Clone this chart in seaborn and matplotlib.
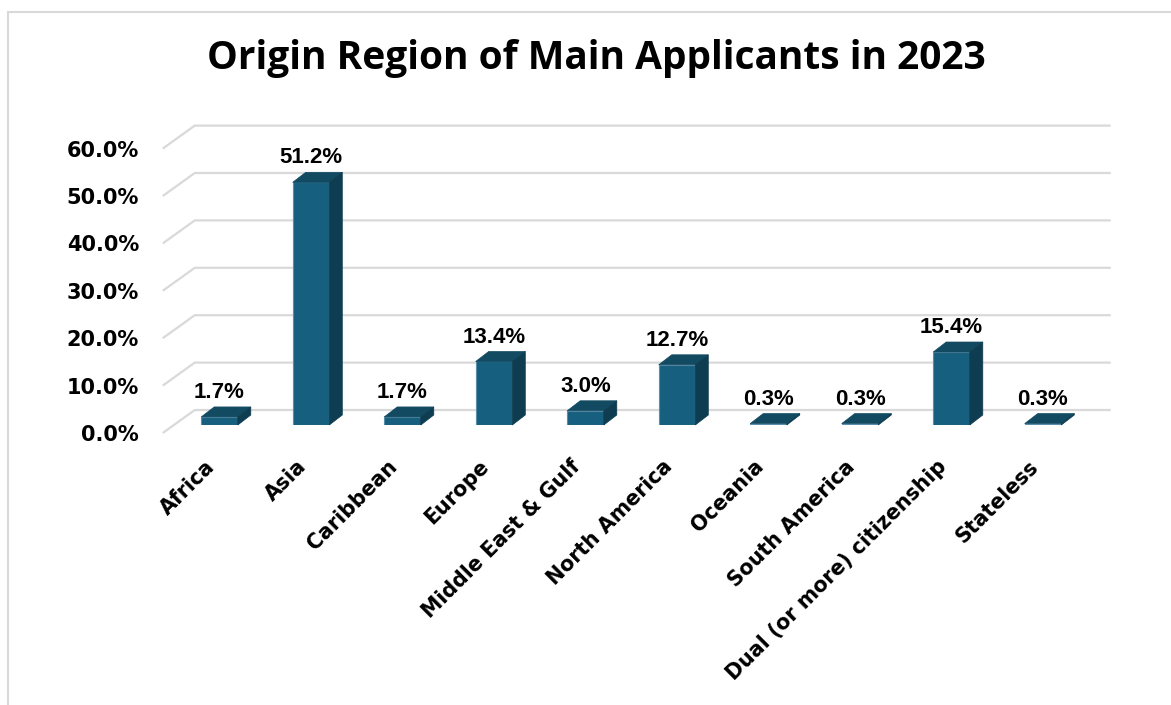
import matplotlib
matplotlib.use("Agg")
import numpy as np
import pandas as pd
import matplotlib.pyplot as plt
import seaborn as sns
from matplotlib.transforms import ScaledTranslation, IdentityTransform
from matplotlib.patches import Polygon, Rectangle
from matplotlib.lines import Line2D

# Share of main applicants by origin region, 2023 (percent)
regions = ["Africa", "Asia", "Caribbean", "Europe", "Middle East & Gulf",
           "North America", "Oceania", "South America",
           "Dual (or more) citizenship", "Stateless"]
shares = [1.7, 51.2, 1.7, 13.4, 3.0, 12.7, 0.3, 0.3, 15.4, 0.3]
y_ticks = [0, 10, 20, 30, 40, 50, 60]
title = "Origin Region of Main Applicants in 2023"

FRONT = "#175F7E"
TOP = "#124A62"
SIDE = "#0E3C50"
EDGE = "#5B8EAB"
GRID = "#D9D9D9"

sns.set_theme(style="white")
plt.rcParams["font.family"] = ["DejaVu Sans"]

W, H = 1171, 705
fig = plt.figure(figsize=(W / 100, H / 100), dpi=100)
fig.patch.set_facecolor("white")

# the axes is the plane of the bars' front faces
ax = fig.add_axes([173.75 / W, 280 / H, 915 / W, 284.4 / H])
ax.set_facecolor("none")

df = pd.DataFrame({"region": regions, "share": shares})
sns.barplot(data=df, x="region", y="share", color=FRONT, saturation=1,
            width=0.40, edgecolor=EDGE, linewidth=0.8, ax=ax, zorder=3)
ax.set_xlim(-0.5, len(regions) - 0.5)
ax.set_ylim(0, 60)
sns.despine(ax=ax, left=True, bottom=True)
ax.set_xlabel("")
ax.set_ylabel("")

# pseudo-3D depth offsets (display pixels, relative to the bar plane)
BAR_BACK = np.array([13.0, 10.0])
FLOOR_FRONT = np.array([-11.0, -8.0])
WALL = np.array([21.0, 15.0])


def disp(x, y, off=(0.0, 0.0)):
    return ax.transData.transform((x, y)) + np.asarray(off)


# gridlines running along the floor edge and the back wall
x0, x1 = ax.get_xlim()
for v in y_ticks:
    pts = np.array([disp(x0, v, FLOOR_FRONT), disp(x0, v, WALL),
                    disp(x1, v, WALL + np.array([1.0, 0.0]))])
    ax.add_line(Line2D(pts[:, 0], pts[:, 1], transform=IdentityTransform(),
                       color=GRID, lw=1.6, clip_on=False, zorder=1,
                       solid_capstyle="butt"))

# top and side faces of each column
for patch in list(ax.patches):
    bx, bw, bh = patch.get_x(), patch.get_width(), patch.get_height()
    top = [disp(bx, bh), disp(bx + bw, bh),
           disp(bx + bw, bh, BAR_BACK), disp(bx, bh, BAR_BACK)]
    side = [disp(bx + bw, 0), disp(bx + bw, bh),
            disp(bx + bw, bh, BAR_BACK), disp(bx + bw, 0, BAR_BACK)]
    ax.add_patch(Polygon(top, closed=True, transform=IdentityTransform(),
                         facecolor=TOP, edgecolor=TOP, lw=0.5,
                         clip_on=False, zorder=3.5))
    ax.add_patch(Polygon(side, closed=True, transform=IdentityTransform(),
                         facecolor=SIDE, edgecolor=SIDE, lw=0.5,
                         clip_on=False, zorder=3.5))

# value labels above the columns
ax.bar_label(ax.containers[0], labels=[f"{v:.1f}%" for v in shares],
             padding=10, fontsize=16, fontweight="bold",
             fontfamily="Liberation Sans", color="black", zorder=5)

# y axis labels sit on the floor's front edge
ax.set_yticks(y_ticks)
ax.set_yticklabels([f"{v:.1f}%" for v in y_ticks], fontsize=15,
                   fontweight="bold", color="black")
ax.tick_params(axis="y", length=0, pad=25)
yshift = ScaledTranslation(0, -8 / 100, fig.dpi_scale_trans)
for lab in ax.get_yticklabels():
    lab.set_transform(lab.get_transform() + yshift)

ax.set_xticks(range(len(regions)))
ax.set_xticklabels(regions, rotation=45, ha="right", va="top",
                   rotation_mode="anchor", fontsize=14.8,
                   fontweight="bold", color="black")
ax.tick_params(axis="x", length=0, pad=24)
xshift = ScaledTranslation(-15 / 100, 2 / 100, fig.dpi_scale_trans)
for lab in ax.get_xticklabels():
    lab.set_transform(lab.get_transform() + xshift)

fig.text(596 / W, 1 - 59 / H, title, ha="center", va="center",
         fontsize=28, fontweight="bold", fontfamily="Open Sans",
         color="black")

# chart frame
fig.add_artist(Rectangle((8 / W, -0.1), 2.0, 1 - 12 / H + 0.1,
                         transform=fig.transFigure, fill=False,
                         edgecolor=GRID, lw=1.5))

fig.savefig("out.png", dpi=100, facecolor="white")
